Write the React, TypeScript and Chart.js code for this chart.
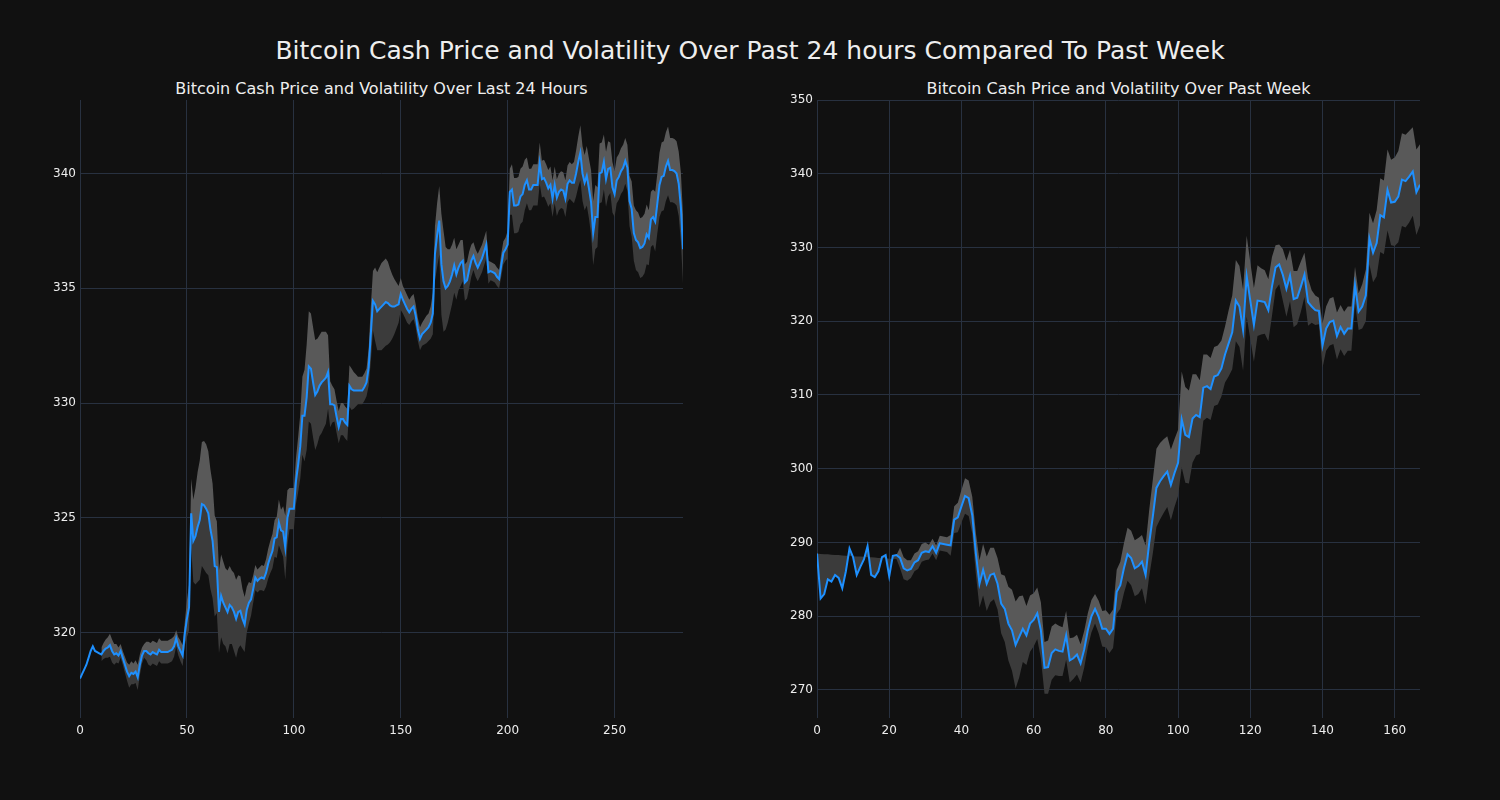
import React, { useEffect, useRef } from "react";
import { Chart, registerables } from "chart.js";

Chart.register(...registerables);

// ---------- DATA ----------
const mainTitle = "Bitcoin Cash Price and Volatility Over Past 24 hours Compared To Past Week";
const dayTitle = "Bitcoin Cash Price and Volatility Over Last 24 Hours";
const weekTitle = "Bitcoin Cash Price and Volatility Over Past Week";

const dayXTicks = [0, 50, 100, 150, 200, 250];
const dayYTicks = [320, 325, 330, 335, 340];
const weekXTicks = [0, 20, 40, 60, 80, 100, 120, 140, 160];
const weekYTicks = [270, 280, 290, 300, 310, 320, 330, 340, 350];

const dayPrice = [
  318.0, 318.2, 318.4, 318.6, 318.9, 319.2, 319.4, 319.2, 319.15, 319.1,
  319.05, 319.2, 319.3, 319.35, 319.45, 319.2, 319.05, 319.1, 319.0, 319.2,
  318.9, 318.6, 318.3, 318.1, 318.25, 318.2, 318.3, 318.05, 318.6, 319.0,
  319.2, 319.2, 319.1, 319.05, 319.15, 319.1, 319.05, 319.25, 319.15, 319.15,
  319.15, 319.15, 319.2, 319.25, 319.4, 319.75, 319.4, 319.2, 319.0, 319.95,
  320.6, 321.1, 325.2, 324.0, 324.2, 324.6, 324.9, 325.6, 325.55, 325.4,
  325.2, 324.5, 324.0, 322.9, 322.85, 320.9, 321.6, 321.3, 321.1, 320.9,
  321.2, 321.1, 320.9, 320.6, 320.9, 320.95, 320.6, 320.35, 321.0, 321.3,
  321.45, 321.9, 322.4, 322.25, 322.35, 322.4, 322.35, 322.6, 323.0, 323.3,
  323.55, 324.1, 324.15, 324.8, 324.45, 324.4, 323.7, 325.0, 325.4, 325.4,
  325.4, 326.6, 327.3, 328.1, 329.45, 329.45, 330.25, 331.6, 331.5, 330.9,
  330.35, 330.5, 330.75, 330.9, 331.0, 331.1, 331.35, 329.95, 329.95, 329.9,
  329.4, 328.95, 329.3, 329.3, 329.15, 329.05, 330.75, 330.6, 330.55, 330.55,
  330.55, 330.55, 330.55, 330.7, 330.9, 331.55, 333.0, 334.45, 334.3, 334.0,
  334.1, 334.2, 334.3, 334.4, 334.35, 334.25, 334.2, 334.2, 334.25, 334.3,
  334.75, 334.5, 334.3, 334.1, 333.95, 334.1, 334.2, 333.8, 333.2, 332.8,
  333.0, 333.1, 333.2, 333.3, 333.5, 333.9, 336.5, 337.3, 337.95, 336.05,
  335.3, 335.0, 335.1, 335.3, 335.6, 336.0, 335.6, 335.9, 336.1, 336.2,
  335.25, 335.35, 335.8, 336.2, 336.4, 336.1, 335.9, 336.1, 336.3, 336.6,
  336.9, 335.7, 335.75, 335.7, 335.65, 335.5, 335.4, 336.0, 336.55, 336.7,
  336.9, 339.2, 339.3, 338.6, 338.6, 338.65, 339.0, 339.1, 339.5, 339.7,
  339.3, 339.3, 339.5, 339.5, 339.5, 340.45, 339.75, 339.8, 339.6, 339.35,
  339.5, 338.9, 339.5, 338.95, 339.2, 339.3, 339.25, 338.9, 339.55, 339.7,
  339.6, 339.6, 340.0, 340.5, 340.9, 340.0, 339.6, 339.9, 339.35, 338.75,
  337.4, 338.1, 338.1, 340.0, 340.05, 340.5, 339.75, 340.2, 340.25, 339.4,
  339.1, 339.7, 339.85, 340.1, 340.25, 340.55, 340.25, 338.8, 338.45, 337.4,
  337.1, 337.0, 336.75, 336.8, 336.95, 337.35, 337.2, 338.0, 338.1, 337.9,
  338.7, 339.5, 339.85, 339.9, 340.3, 340.55, 340.15, 340.15, 340.1, 340.0,
  339.55, 338.55, 336.7,
];

const dayVol: (number | null)[] = [
  null, null, null, null, null, null, null, null, null, null,
  0.3, 0.35, 0.4, 0.45, 0.5, 0.5, 0.45, 0.4, 0.35, 0.3,
  0.3, 0.35, 0.4, 0.5, 0.5, 0.45, 0.5, 0.55, 0.45, 0.35,
  0.3, 0.4, 0.5, 0.5, 0.5, 0.5, 0.5, 0.5, 0.5, 0.5,
  0.5, 0.5, 0.5, 0.5, 0.45, 0.35, 0.4, 0.45, 0.45, 0.5,
  0.8, 1.0, 1.5, 1.8, 2.1, 2.4, 2.6, 2.7, 2.8, 2.8,
  2.7, 2.6, 2.5, 2.2, 2.0, 1.8, 1.8, 1.8, 1.7, 1.8,
  1.7, 1.6, 1.7, 1.7, 1.6, 1.5, 1.3, 1.2, 1.0, 0.9,
  0.7, 0.6, 0.55, 0.5, 0.5, 0.55, 0.55, 0.6, 0.65, 0.7,
  0.75, 0.8, 0.9, 1.0, 0.9, 1.1, 1.4, 1.2, 0.9, 0.9,
  0.9, 1.0, 1.2, 1.4, 1.7, 2.0, 2.3, 2.4, 2.4, 2.4,
  2.4, 2.3, 2.2, 2.2, 2.1, 2.0, 1.6, 1.0, 0.8, 0.7,
  0.7, 0.7, 0.7, 0.7, 0.7, 0.7, 0.9, 0.9, 0.8, 0.7,
  0.6, 0.6, 0.6, 0.6, 0.6, 0.8, 1.2, 1.3, 1.6, 1.7,
  1.8, 1.9, 1.9, 1.9, 1.8, 1.6, 1.4, 1.2, 1.0, 0.8,
  0.7, 0.6, 0.6, 0.6, 0.55, 0.55, 0.55, 0.5, 0.5, 0.5,
  0.5, 0.55, 0.6, 0.6, 0.7, 0.9, 1.2, 1.4, 1.5, 2.2,
  2.2, 1.8, 1.6, 1.4, 1.3, 1.2, 1.1, 1.0, 1.0, 0.9,
  0.8, 0.8, 0.8, 0.7, 0.6, 0.6, 0.6, 0.6, 0.6, 0.6,
  0.6, 0.5, 0.4, 0.4, 0.4, 0.4, 0.4, 0.5, 0.5, 0.5,
  0.6, 1.0, 1.1, 1.2, 1.2, 1.2, 1.2, 1.2, 1.1, 1.0,
  0.9, 0.9, 0.9, 0.9, 0.9, 0.9, 0.8, 0.8, 0.8, 0.8,
  0.8, 0.8, 0.8, 0.8, 0.8, 0.8, 0.8, 0.8, 0.8, 0.8,
  0.8, 0.9, 1.0, 1.1, 1.2, 1.2, 1.2, 1.3, 1.3, 1.4,
  1.4, 1.4, 1.3, 1.3, 1.3, 1.2, 1.2, 1.2, 1.1, 1.1,
  1.0, 1.0, 1.0, 1.0, 1.0, 1.0, 1.0, 1.1, 1.2, 1.2,
  1.3, 1.3, 1.3, 1.3, 1.3, 1.3, 1.2, 1.2, 1.2, 1.3,
  1.3, 1.4, 1.5, 1.5, 1.5, 1.5, 1.4, 1.4, 1.4, 1.4,
  1.4, 1.5, 1.5,
];

const weekPrice = [
  288.5, 282.4, 283.0, 285.0, 284.7, 285.6, 285.2, 283.8, 286.1, 289.2,
  288.0, 285.6, 286.7, 287.7, 289.5, 285.6, 285.3, 286.1, 288.0, 288.3,
  285.4, 288.2, 288.3, 287.9, 286.5, 286.2, 286.4, 287.3, 287.6, 288.6,
  288.8, 288.7, 289.5, 288.6, 289.9, 289.8, 289.7, 289.6, 293.1, 293.4,
  294.9, 296.3, 296.0, 293.7, 288.5, 284.4, 286.3, 284.4, 285.6, 285.8,
  284.4, 281.7, 281.0, 279.0, 278.1, 276.1, 277.2, 278.3, 277.4, 279.0,
  279.5, 280.4, 278.1, 273.0, 273.1, 275.0, 275.5, 275.3, 275.2, 277.4,
  274.0, 274.3, 274.8, 273.6, 275.5, 278.1, 280.0, 281.0, 279.9, 278.3,
  278.3, 277.6, 278.3, 283.3, 284.2, 286.5, 288.4, 287.9, 286.5, 286.8,
  287.4, 285.6, 289.9, 293.5, 297.4, 298.3, 299.0, 299.6, 297.8, 299.4,
  300.8, 306.7, 304.6, 304.3, 306.8, 307.3, 307.0, 311.0, 311.2, 310.8,
  312.5, 312.7, 313.6, 315.5, 317.0, 318.5, 322.8, 322.0, 318.8, 326.1,
  322.8, 319.5, 322.8, 322.7, 322.6, 321.5, 324.7, 327.3, 327.7, 326.3,
  324.4, 326.2, 323.0, 323.2, 324.7, 326.3, 322.6, 322.0, 321.5, 321.4,
  316.7, 319.0, 319.9, 320.1, 318.0, 319.2, 318.3, 319.0, 319.0, 324.9,
  321.3, 322.0, 323.5, 331.2, 329.3, 330.6, 334.4, 334.1, 337.8, 336.1,
  336.2, 336.9, 339.2, 339.0, 339.6, 340.3, 337.5, 338.5,
];

// lower edge of the band at the start of the week (before the rolling window fills)
const weekEarlyBase = [
  288.5, 288.45, 288.4, 288.4, 288.35, 288.3, 288.3, 288.25, 288.2, 288.2,
  288.15, 288.1, 288.1, 288.05, 288.0, 288.0, 287.95, 287.9, 287.9, 287.85,
  287.8, 287.8, 287.75,
];

const weekVol: (number | null)[] = [
  null, null, null, null, null, null, null, null, null, null,
  null, null, null, null, null, null, null, null, null, null,
  null, null, null, 1.4, 1.5, 1.4, 1.2, 1.2, 1.2, 1.2,
  1.2, 1.0, 1.0, 1.0, 1.0, 1.0, 1.0, 1.4, 1.8, 2.0,
  2.2, 2.4, 2.4, 2.5, 2.8, 3.2, 3.5, 3.7, 3.7, 3.5,
  3.5, 4.0, 4.5, 5.0, 5.5, 5.9, 5.5, 4.5, 4.0, 3.8,
  3.6, 3.5, 3.8, 3.5, 3.6, 3.6, 3.5, 3.4, 3.3, 3.3,
  3.0, 2.8, 2.7, 2.6, 2.5, 2.3, 2.2, 2.0, 2.2, 2.4,
  2.5, 2.6, 2.6, 3.0, 3.2, 3.4, 3.6, 3.7, 3.8, 3.8,
  3.6, 4.0, 4.5, 5.0, 5.3, 5.2, 5.0, 4.8, 4.8, 4.6,
  4.5, 6.5, 6.5, 6.3, 6.0, 5.5, 5.0, 4.5, 4.3, 4.2,
  4.0, 4.0, 3.8, 3.8, 4.5, 5.0, 5.5, 5.5, 5.5, 5.5,
  5.2, 5.0, 4.8, 4.5, 4.3, 4.2, 4.0, 3.0, 2.7, 3.5,
  3.8, 3.5, 3.8, 3.6, 3.4, 3.0, 3.2, 2.2, 2.0, 1.8,
  3.0, 3.0, 3.2, 3.2, 3.2, 3.0, 3.0, 3.0, 3.0, 2.5,
  2.5, 3.0, 3.5, 3.5, 4.0, 4.5, 5.0, 5.0, 5.5, 5.8,
  6.0, 6.2, 6.3, 6.3, 6.2, 6.0, 5.8, 5.5,
];

// ---------- DERIVED ----------
const dayUpper = dayPrice.map((p, i) => (dayVol[i] == null ? null : p + (dayVol[i] as number)));
const dayLower = dayPrice.map((p, i) => (dayVol[i] == null ? null : p - (dayVol[i] as number)));
const weekUpper = weekPrice.map((p, i) =>
  i < weekEarlyBase.length ? p : p + (weekVol[i] as number)
);
const weekLower = weekPrice.map((p, i) =>
  i < weekEarlyBase.length ? weekEarlyBase[i] : p - (weekVol[i] as number)
);

const FONT = "'DejaVu Sans', 'Noto Sans', sans-serif";
const BG = "#111111";
const GRID = "#283140";
const TEXT = "#eeeeee";
const LINE = "#1e90ff";
const BAND_HI = "#595959";
const BAND_LO = "#3b3b3b";

const toXY = (arr: (number | null)[]) => arr.map((v, i) => ({ x: i, y: v }));

function buildConfig(opts: {
  price: number[];
  lower: (number | null)[];
  upper: (number | null)[];
  yMin: number;
  yMax: number;
  xTicks: number[];
  yTicks: number[];
  axisWidth: number;
  padRight: number;
}): any {
  const { price, lower, upper, yMin, yMax, xTicks, yTicks, axisWidth, padRight } = opts;
  return {
    type: "line",
    data: {
      datasets: [
        {
          data: toXY(lower),
          borderColor: "rgba(0,0,0,0)",
          borderWidth: 0,
          pointRadius: 0,
          fill: false,
        },
        {
          data: toXY(price),
          borderColor: LINE,
          borderWidth: 2,
          pointRadius: 0,
          backgroundColor: BAND_LO,
          fill: { target: 0 },
        },
        {
          data: toXY(upper),
          borderColor: "rgba(0,0,0,0)",
          borderWidth: 0,
          pointRadius: 0,
          backgroundColor: BAND_HI,
          fill: { target: 1 },
        },
      ],
    },
    options: {
      animation: false,
      responsive: false,
      maintainAspectRatio: false,
      devicePixelRatio: 1,
      events: [],
      layout: { padding: { left: 0, right: padRight, top: 100, bottom: 0 } },
      elements: { line: { tension: 0 } },
      plugins: {
        legend: { display: false },
        title: { display: false },
        tooltip: { enabled: false },
        filler: { propagate: false, drawTime: "beforeDatasetsDraw" },
      },
      scales: {
        x: {
          type: "linear",
          min: 0,
          max: price.length - 1,
          border: { display: false },
          grid: { color: GRID, lineWidth: 1, drawTicks: false },
          ticks: {
            color: TEXT,
            font: { family: FONT, size: 12 },
            padding: 6,
            autoSkip: false,
            maxRotation: 0,
          },
          afterBuildTicks: (s: any) => {
            s.ticks = xTicks.map((v) => ({ value: v }));
          },
          afterFit: (s: any) => {
            s.height = 82;
          },
        },
        y: {
          type: "linear",
          min: yMin,
          max: yMax,
          border: { display: false },
          grid: { color: GRID, lineWidth: 1, drawTicks: false },
          ticks: {
            color: TEXT,
            font: { family: FONT, size: 12 },
            padding: 4,
            autoSkip: false,
          },
          afterBuildTicks: (s: any) => {
            s.ticks = yTicks.map((v) => ({ value: v }));
          },
          afterFit: (s: any) => {
            s.width = axisWidth;
          },
        },
      },
    },
  };
}

function ChartCanvas({ config, left }: { config: any; left: number }) {
  const ref = useRef<HTMLCanvasElement | null>(null);
  useEffect(() => {
    if (!ref.current) return;
    const chart = new Chart(ref.current, config);
    return () => chart.destroy();
  }, [config]);
  return (
    <canvas
      ref={ref}
      width={750}
      height={800}
      style={{ position: "absolute", left, top: 0, width: 750, height: 800 }}
    />
  );
}

const dayConfig = buildConfig({
  price: dayPrice,
  lower: dayLower,
  upper: dayUpper,
  yMin: 316.28,
  yMax: 343.2,
  xTicks: dayXTicks,
  yTicks: dayYTicks,
  axisWidth: 80,
  padRight: 67,
});

const weekConfig = buildConfig({
  price: weekPrice,
  lower: weekLower,
  upper: weekUpper,
  yMin: 266.2,
  yMax: 350,
  xTicks: weekXTicks,
  yTicks: weekYTicks,
  axisWidth: 67,
  padRight: 80,
});

const textStyle: React.CSSProperties = {
  position: "absolute",
  color: TEXT,
  fontFamily: FONT,
  whiteSpace: "nowrap",
  transform: "translate(-50%, -50%)",
  lineHeight: 1,
};

export default function App() {
  return (
    <div
      style={{
        position: "fixed",
        left: 0,
        top: 0,
        width: 1500,
        height: 800,
        background: BG,
        overflow: "hidden",
      }}
    >
      <div style={{ ...textStyle, left: 750, top: 50, fontSize: 25 }}>{mainTitle}</div>
      <div style={{ ...textStyle, left: 381.5, top: 89, fontSize: 16 }}>{dayTitle}</div>
      <div style={{ ...textStyle, left: 1118.5, top: 89, fontSize: 16 }}>{weekTitle}</div>
      <ChartCanvas config={dayConfig} left={0} />
      <ChartCanvas config={weekConfig} left={750} />
    </div>
  );
}
